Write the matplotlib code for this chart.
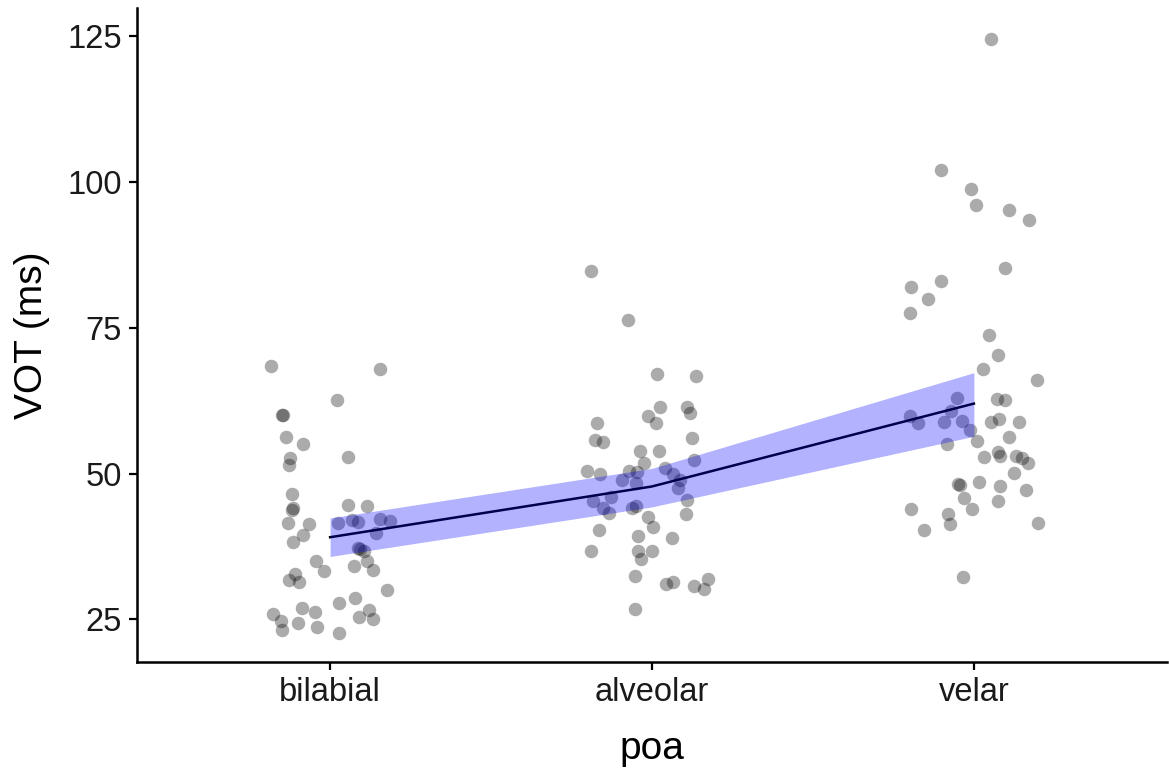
import numpy as np
import matplotlib.pyplot as plt

plt.rcParams['font.family'] = ['Liberation Sans', 'DejaVu Sans']

poa = ['bilabial', 'alveolar', 'velar']

# jitter offsets (category units) and VOT values
bilabial_jit = [-0.185, 0.155, 0.02, -0.15, -0.145, -0.138, -0.083, -0.126, -0.128, 0.054,
                -0.117, -0.12, -0.115, -0.13, -0.065, -0.083, -0.114, 0.056, 0.114, 0.023,
                0.069, 0.088, 0.156, 0.187, 0.142, 0.086, 0.092, 0.104, 0.116, 0.132,
                0.075, -0.045, -0.019, -0.11, -0.128, -0.097, 0.178, 0.028, 0.077, -0.086,
                -0.047, -0.177, -0.154, -0.149, -0.099, -0.041, 0.028, 0.09, 0.121, 0.132]
bilabial_vot = [68.5, 68.0, 62.7, 60.0, 60.1, 56.3, 55.0, 52.7, 51.4, 52.8,
                46.5, 43.8, 44.1, 41.5, 41.4, 39.4, 38.3, 44.7, 44.4, 41.5,
                42.0, 41.7, 42.2, 41.9, 39.8, 37.3, 37.1, 36.8, 35.1, 33.4,
                34.1, 35.0, 33.3, 32.8, 31.7, 31.4, 30.0, 27.9, 28.7, 26.9,
                26.3, 25.9, 24.8, 23.2, 24.4, 23.7, 22.7, 25.4, 26.7, 25.0]

alveolar_jit = [-0.191, -0.074, 0.017, 0.137, 0.025, -0.012, 0.012, 0.108, 0.118, -0.172,
                -0.178, -0.152, 0.124, -0.037, 0.023, -0.025, -0.202, -0.162, -0.071, -0.048,
                -0.094, -0.05, 0.04, 0.064, 0.129, 0.087, 0.08, -0.183, -0.126, -0.152,
                -0.133, -0.063, -0.05, 0.108, 0.106, -0.012, 0.004, -0.164, 0.063, -0.043,
                -0.19, -0.043, -0.035, -0.001, -0.053, 0.043, 0.064, 0.132, 0.16, 0.175,
                -0.053]
alveolar_vot = [84.7, 76.3, 67.0, 66.7, 61.4, 59.9, 58.7, 61.4, 60.4, 58.7,
                55.8, 55.5, 56.1, 53.9, 53.8, 51.9, 50.5, 49.9, 50.5, 50.3,
                48.9, 48.4, 51.0, 49.9, 52.3, 48.9, 47.5, 45.3, 46.0, 44.1,
                43.3, 44.1, 44.4, 45.4, 43.0, 42.6, 40.9, 40.3, 39.0, 39.3,
                36.8, 36.8, 35.4, 36.7, 32.5, 31.1, 31.4, 30.8, 30.2, 31.9,
                26.8]

velar_jit = [0.053, -0.101, -0.009, 0.006, 0.108, 0.172, 0.098, -0.194, -0.101, -0.142,
             -0.198, 0.048, 0.076, 0.029, 0.195, 0.072, 0.096, -0.051, -0.072, -0.198,
             -0.175, -0.093, -0.037, -0.012, 0.053, 0.079, 0.141, 0.11, 0.009, -0.082,
             0.03, 0.076, 0.082, 0.131, 0.15, 0.167, 0.125, -0.048, -0.043, 0.017,
             0.082, 0.162, -0.032, -0.006, 0.076, -0.196, -0.08, -0.074, -0.155, 0.198,
             -0.033]
velar_vot = [124.5, 102.0, 98.7, 96.1, 95.2, 93.4, 85.3, 82.0, 83.0, 80.0,
             77.6, 73.7, 70.3, 67.9, 66.1, 62.8, 62.6, 63.0, 60.8, 59.8,
             58.7, 58.9, 59.0, 57.4, 58.9, 59.3, 58.9, 56.3, 55.6, 55.1,
             52.8, 53.7, 53.0, 53.0, 52.7, 51.9, 50.1, 48.2, 48.0, 48.5,
             47.8, 47.2, 45.9, 43.9, 45.3, 44.0, 43.0, 41.4, 40.3, 41.6,
             32.2]

# model fit and confidence band
fit = [39.1, 47.8, 62.0]
fit_lo = [35.8, 44.3, 56.4]
fit_hi = [42.4, 50.9, 67.3]

jits = [bilabial_jit, alveolar_jit, velar_jit]
vots = [bilabial_vot, alveolar_vot, velar_vot]

fig = plt.figure(figsize=(11.69, 7.72), dpi=100)
ax = fig.add_axes([137 / 1169, 1 - 661.5 / 772, 1030 / 1169, 653.5 / 772])

for i in range(3):
    x = i + 1 + np.array(jits[i])
    ax.scatter(x, vots[i], s=95, color='black', alpha=0.33, linewidths=0, zorder=2)

pos = np.arange(1, 4)
ax.plot(pos, fit, color='black', lw=1.8, zorder=3)
ax.fill_between(pos, fit_lo, fit_hi, color='blue', alpha=0.3, linewidth=0, zorder=4)

ax.set_xlim(0.4, 3.6)
ax.set_ylim(17.8, 129.8)
ax.set_xticks(pos)
ax.set_xticklabels(poa)
ax.set_yticks([25, 50, 75, 100, 125])

for s in ['top', 'right']:
    ax.spines[s].set_visible(False)
for s in ['left', 'bottom']:
    ax.spines[s].set_linewidth(1.8)
    ax.spines[s].set_color('black')

ax.tick_params(axis='both', length=6, width=1.6, labelsize=23.5, colors='black',
               labelcolor='#1a1a1a', pad=5)
ax.set_xlabel('poa', fontsize=28, labelpad=17)
ax.set_ylabel('VOT (ms)', fontsize=28, labelpad=12)

fig.savefig('out.png', dpi=100)
